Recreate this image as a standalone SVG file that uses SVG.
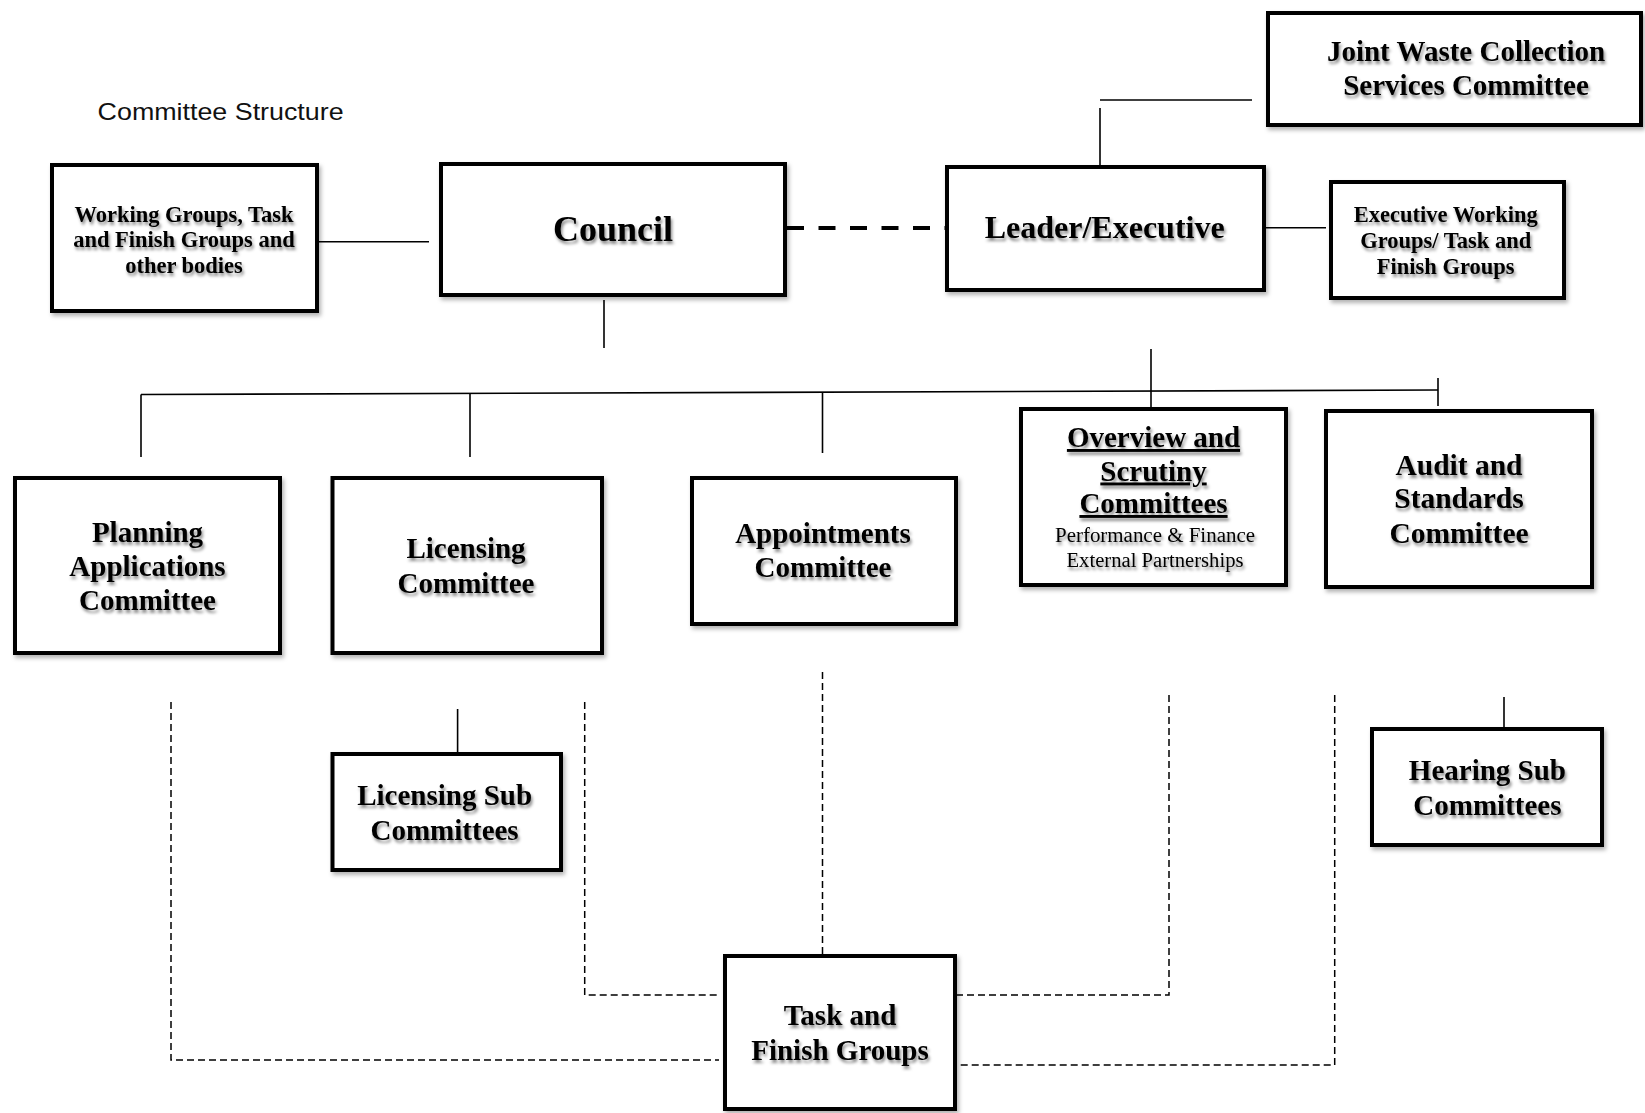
<svg xmlns="http://www.w3.org/2000/svg" width="1645" height="1113" viewBox="0 0 1645 1113">
<defs>
<filter id="ts" x="-10%" y="-30%" width="120%" height="170%"><feDropShadow dx="1.5" dy="3" stdDeviation="1.4" flood-color="#000" flood-opacity="0.45"/></filter>
<filter id="bs" x="-5%" y="-5%" width="112%" height="115%"><feDropShadow dx="2" dy="3" stdDeviation="2" flood-color="#000" flood-opacity="0.3"/></filter>
</defs>
<style>
.box{fill:#fff;stroke:#000;stroke-width:4;filter:url(#bs)}
.t{font-family:"Liberation Serif","Times New Roman",serif;font-weight:bold;fill:#000;text-anchor:middle;filter:url(#ts)}
.s{font-family:"Liberation Serif","Times New Roman",serif;font-weight:normal;fill:#000;text-anchor:middle;filter:url(#ts)}
.ln{stroke:#000;stroke-width:1.6;fill:none}
.dl{stroke:#000;stroke-width:1.5;fill:none;stroke-dasharray:7 4}
.dk{stroke:#000;stroke-width:4;fill:none;stroke-dasharray:17 14.5}
.title{font-family:"Liberation Sans",Arial,sans-serif;font-size:24px;fill:#111}
</style>
<rect width="1645" height="1113" fill="#fff"/>
<text class="title" x="97.6" y="120" textLength="246" lengthAdjust="spacingAndGlyphs">Committee Structure</text>
<g id="connectors">
<line class="ln" x1="319" y1="241.7" x2="429" y2="241.7"/>
<line class="ln" x1="604" y1="300" x2="604" y2="348"/>
<line class="dk" x1="787" y1="228" x2="945" y2="228"/>
<line class="ln" x1="1100" y1="100" x2="1252" y2="100"/>
<line class="ln" x1="1100" y1="108" x2="1100" y2="165"/>
<line class="ln" x1="1266" y1="227.7" x2="1326" y2="227.7"/>
<line class="ln" x1="1151" y1="349" x2="1151" y2="407"/>
<line class="ln" x1="141" y1="394.5" x2="1438" y2="390"/>
<line class="ln" x1="141" y1="394.5" x2="141" y2="457"/>
<line class="ln" x1="470" y1="394" x2="470" y2="457"/>
<line class="ln" x1="822.5" y1="393" x2="822.5" y2="453"/>
<line class="ln" x1="1438" y1="378" x2="1438" y2="406"/>
<line class="ln" x1="457.6" y1="709" x2="457.6" y2="752"/>
<line class="ln" x1="1504" y1="697" x2="1504" y2="727"/>
<path class="dl" d="M171,702 V1060 H719"/>
<path class="dl" d="M584.7,702 V995 H717"/>
<path class="dl" d="M822.5,672 V954"/>
<path class="dl" d="M1169,695 V995 H957"/>
<path class="dl" d="M1334.7,695 V1065 H957"/>
</g>
<g id="working-groups">
<rect class="box" x="52" y="165" width="265" height="146"/>
<text class="t" font-size="22.5"><tspan x="184" y="221.7">Working Groups, Task</tspan><tspan x="184" y="246.7">and Finish  Groups and</tspan><tspan x="184" y="273">other bodies</tspan></text>
</g>
<g id="council">
<rect class="box" x="441" y="164" width="344" height="131"/>
<text class="t" font-size="36" x="613" y="240.7">Council</text>
</g>
<g id="leader-executive">
<rect class="box" x="947" y="167" width="317" height="123"/>
<text class="t" font-size="32" x="1104.7" y="238">Leader/Executive</text>
</g>
<g id="joint-waste">
<rect class="box" x="1268" y="13" width="373" height="112"/>
<text class="t" font-size="29"><tspan x="1466" y="61">Joint Waste Collection</tspan><tspan x="1466" y="95">Services Committee</tspan></text>
</g>
<g id="executive-working">
<rect class="box" x="1331" y="182" width="233" height="116"/>
<text class="t" font-size="22.5"><tspan x="1445.7" y="221.7">Executive Working</tspan><tspan x="1445.7" y="248.3">Groups/ Task and</tspan><tspan x="1445.7" y="274">Finish Groups</tspan></text>
</g>
<g id="planning">
<rect class="box" x="15" y="478" width="265" height="175"/>
<text class="t" font-size="29"><tspan x="147.5" y="541.7">Planning</tspan><tspan x="147.5" y="575.5">Applications</tspan><tspan x="147.5" y="610">Committee</tspan></text>
</g>
<g id="licensing">
<rect class="box" x="332.5" y="478" width="269.5" height="175"/>
<text class="t" font-size="29"><tspan x="466" y="558.3">Licensing</tspan><tspan x="466" y="593.3">Committee</tspan></text>
</g>
<g id="appointments">
<rect class="box" x="692" y="478" width="264" height="146"/>
<text class="t" font-size="29"><tspan x="823" y="542.7">Appointments</tspan><tspan x="823" y="577.3">Committee</tspan></text>
</g>
<g id="overview-scrutiny">
<rect class="box" x="1021" y="409" width="265" height="176"/>
<text class="t" font-size="29" text-decoration="underline"><tspan x="1153.5" y="447">Overview and</tspan><tspan x="1153.5" y="480.5">Scrutiny</tspan><tspan x="1153.5" y="513">Committees</tspan></text>
<text class="s" font-size="20"><tspan x="1155" y="541.7" textLength="200" lengthAdjust="spacingAndGlyphs">Performance  &amp; Finance</tspan><tspan x="1155" y="566.7" textLength="177" lengthAdjust="spacingAndGlyphs">External Partnerships</tspan></text>
</g>
<g id="audit-standards">
<rect class="box" x="1326" y="411" width="266" height="176"/>
<text class="t" font-size="29.5"><tspan x="1459" y="474.5">Audit and</tspan><tspan x="1459" y="508">Standards</tspan><tspan x="1459" y="542.7">Committee</tspan></text>
</g>
<g id="licensing-sub">
<rect class="box" x="332.5" y="754" width="228.5" height="116"/>
<text class="t" font-size="29"><tspan x="444.6" y="805">Licensing Sub</tspan><tspan x="444.6" y="840">Committees</tspan></text>
</g>
<g id="hearing-sub">
<rect class="box" x="1372" y="729" width="230" height="116"/>
<text class="t" font-size="29"><tspan x="1487.4" y="780">Hearing Sub</tspan><tspan x="1487.4" y="815">Committees</tspan></text>
</g>
<g id="task-finish">
<rect class="box" x="725" y="956" width="230" height="153"/>
<text class="t" font-size="29"><tspan x="840" y="1025">Task and</tspan><tspan x="840" y="1060">Finish Groups</tspan></text>
</g>
</svg>
